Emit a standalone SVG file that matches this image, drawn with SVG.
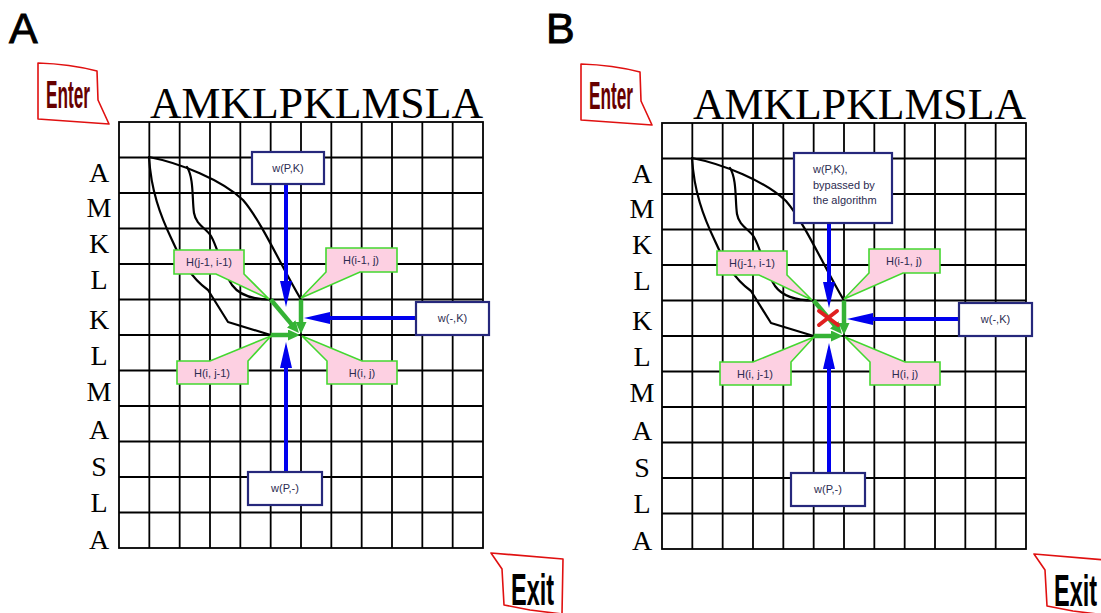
<svg xmlns="http://www.w3.org/2000/svg" width="1101" height="613" viewBox="0 0 1101 613">
  <style>
    .grid { fill: none; stroke: #000; stroke-width: 1.8; }
    .seq { font-family: "Liberation Serif", "Times New Roman", serif; fill: #000; }
    .panel { font-family: "Liberation Sans", Arial, sans-serif; font-size: 43px; fill: #000; stroke: #000; stroke-width: 0.9; }
    .tag { fill: #fff; stroke: #e01010; stroke-width: 1.6; stroke-linejoin: round; }
    .tagtext { font-family: "Liberation Sans", Arial, sans-serif; font-weight: bold; }
    .trace { fill: none; stroke: #000; stroke-width: 2.2; stroke-linejoin: round; stroke-linecap: round; }
    .wbox rect { fill: #fff; stroke: #26287c; stroke-width: 2.2; }
    .lbl { font-family: "Liberation Sans", Arial, sans-serif; font-size: 11px; fill: #2b2b50; }
    .call polygon { fill: #fdd0e2; stroke: #44d830; stroke-width: 1.6; }
    .blue { stroke: #0000ee; stroke-width: 4; fill: none; }
    .green { stroke: #35b335; stroke-width: 4.5; fill: none; }
    .cross { stroke: #e02020; stroke-width: 4; stroke-linecap: round; }
  </style>
  <defs>
    <marker id="blueHead" markerUnits="userSpaceOnUse" markerWidth="27" markerHeight="12" refX="2" refY="6" orient="auto">
      <path d="M0,0 L26,6 L0,12 Z" fill="#0000ee"/>
    </marker>
    <marker id="greenHead" markerUnits="userSpaceOnUse" markerWidth="13" markerHeight="11" refX="2" refY="5.5" orient="auto">
      <path d="M0,0 L12,5.5 L0,11 Z" fill="#35b335"/>
    </marker>
    <!-- 12 x 12 scoring matrix -->
    <g id="grid">
      <rect class="grid" x="119" y="122" width="364" height="426"/>
      <path class="grid" d="M149.33,122V548 M179.67,122V548 M210,122V548 M240.33,122V548 M270.67,122V548 M301,122V548 M331.33,122V548 M361.67,122V548 M392,122V548 M422.33,122V548 M452.67,122V548
        M119,157.5H483 M119,193H483 M119,228.5H483 M119,264H483 M119,299.5H483 M119,335H483 M119,370.5H483 M119,406H483 M119,441.5H483 M119,477H483 M119,512.5H483"/>
    </g>
    <!-- sequence labels along both axes -->
    <g id="seqs">
      <text class="seq" x="150" y="118" font-size="44" textLength="333" lengthAdjust="spacingAndGlyphs">AMKLPKLMSLA</text>
      <g class="seq" font-size="28" text-anchor="middle">
        <text x="99" y="182">A</text>
        <text x="99" y="217">M</text>
        <text x="99" y="253">K</text>
        <text x="99" y="289">L</text>
        <text x="99" y="329">K</text>
        <text x="99" y="365">L</text>
        <text x="99" y="401">M</text>
        <text x="99" y="439">A</text>
        <text x="99" y="476">S</text>
        <text x="99" y="512">L</text>
        <text x="99" y="549">A</text>
      </g>
    </g>
    <!-- alignment paths traced through the matrix -->
    <g id="traces">
      <path class="trace" d="M149,157 C180,163 222,180 243,200 C262,222 282,268 301,299.5"/>
      <path class="trace" d="M187,167 C194,178 192,200 194,213 C196,225 206,228 211,236 C218,248 222,270 232,285 C240,296 255,299.5 270.67,299.5"/>
      <path class="trace" d="M149,157 C151,190 160,215 172,240 C180,258 190,277 208,290 L228,322 L270.67,335"/>
    </g>
    <g id="enterTag">
      <path class="tag" d="M38,63 Q70,64 97,71 L98,100 L109,124 L38,119 Z"/>
      <text class="tagtext" x="46" y="108" font-size="39" fill="#660000" textLength="44" lengthAdjust="spacingAndGlyphs">Enter</text>
    </g>
    <g id="exitTag">
      <path class="tag" d="M491,553 L563,559 L562,614 L530,610 L504,605 L502,569 Z"/>
      <text class="tagtext" x="511" y="605" font-size="44" fill="#000" textLength="43" lengthAdjust="spacingAndGlyphs">Exit</text>
    </g>
    <!-- pink callouts for the four H cells -->
    <g id="hCallouts" class="call">
      <g>
        <polygon points="174,250 244,250 244,274 269,299 216,274 174,274"/>
        <text class="lbl" x="209" y="266" text-anchor="middle">H(j-1, i-1)</text>
      </g>
      <g>
        <polygon points="326,248 397,248 397,272 360,272 301,298 326,272"/>
        <text class="lbl" x="361" y="264" text-anchor="middle">H(i-1, j)</text>
      </g>
      <g>
        <polygon points="177,361 210,361 271,336 248,361 248,384 177,384"/>
        <text class="lbl" x="212" y="377" text-anchor="middle">H(i, j-1)</text>
      </g>
      <g>
        <polygon points="302,336 362,361 397,361 397,384 327,384 327,361"/>
        <text class="lbl" x="362" y="377" text-anchor="middle">H(i, j)</text>
      </g>
    </g>
  </defs>

  <text class="panel" x="9" y="43">A</text>
  <text class="panel" x="546" y="43">B</text>

  <!-- Panel A: full recurrence -->
  <g id="panel-a">
    <use href="#grid"/>
    <use href="#seqs"/>
    <use href="#enterTag"/>
    <use href="#exitTag"/>
    <g id="a-connectors">
      <use href="#traces"/>
      <line class="blue" x1="286" y1="184" x2="286" y2="283" marker-end="url(#blueHead)"/>
      <line class="blue" x1="416" y1="318" x2="328" y2="318" marker-end="url(#blueHead)"/>
      <line class="blue" x1="286" y1="472" x2="286" y2="366" marker-end="url(#blueHead)"/>
      <line class="green" x1="270.67" y1="299.5" x2="292.5" y2="325.4" marker-end="url(#greenHead)"/>
      <line class="green" x1="301" y1="299.5" x2="301" y2="324" marker-end="url(#greenHead)"/>
      <line class="green" x1="270.67" y1="335" x2="290" y2="335" marker-end="url(#greenHead)"/>
    </g>
    <g id="a-callouts"><use href="#hCallouts"/></g>
    <g id="a-wpk" class="wbox">
      <rect x="252" y="152" width="72" height="32"/>
      <text class="lbl" x="288" y="172" text-anchor="middle">w(P,K)</text>
    </g>
    <g id="a-wgk" class="wbox">
      <rect x="416" y="302" width="73" height="33"/>
      <text class="lbl" x="452.5" y="322" text-anchor="middle">w(-,K)</text>
    </g>
    <g id="a-wpg" class="wbox">
      <rect x="248" y="472" width="74" height="33"/>
      <text class="lbl" x="285" y="492" text-anchor="middle">w(P,-)</text>
    </g>
  </g>

  <!-- Panel B: diagonal term skipped -->
  <g id="panel-b" transform="translate(543,1)">
    <use href="#grid"/>
    <use href="#seqs"/>
    <use href="#enterTag"/>
    <use href="#exitTag"/>
    <g id="b-connectors">
      <use href="#traces"/>
      <line class="blue" x1="286" y1="222" x2="286" y2="283" marker-end="url(#blueHead)"/>
      <line class="blue" x1="416" y1="318" x2="328" y2="318" marker-end="url(#blueHead)"/>
      <line class="blue" x1="286" y1="472" x2="286" y2="366" marker-end="url(#blueHead)"/>
      <line class="green" x1="270.67" y1="299.5" x2="292.5" y2="325.4" marker-end="url(#greenHead)"/>
      <line class="green" x1="301" y1="299.5" x2="301" y2="324" marker-end="url(#greenHead)"/>
      <line class="green" x1="270.67" y1="335" x2="290" y2="335" marker-end="url(#greenHead)"/>
      <line class="cross" x1="276" y1="310" x2="295" y2="324"/>
      <line class="cross" x1="276" y1="324" x2="294" y2="310"/>
    </g>
    <g id="b-callouts"><use href="#hCallouts"/></g>
    <g id="b-wpk" class="wbox">
      <rect x="251" y="152" width="98" height="70"/>
      <text class="lbl" x="270" y="172">w(P,K),</text>
      <text class="lbl" x="270" y="188">bypassed by</text>
      <text class="lbl" x="270" y="203">the algorithm</text>
    </g>
    <g id="b-wgk" class="wbox">
      <rect x="416" y="302" width="73" height="33"/>
      <text class="lbl" x="452.5" y="322" text-anchor="middle">w(-,K)</text>
    </g>
    <g id="b-wpg" class="wbox">
      <rect x="248" y="472" width="74" height="33"/>
      <text class="lbl" x="285" y="492" text-anchor="middle">w(P,-)</text>
    </g>
  </g>
</svg>
